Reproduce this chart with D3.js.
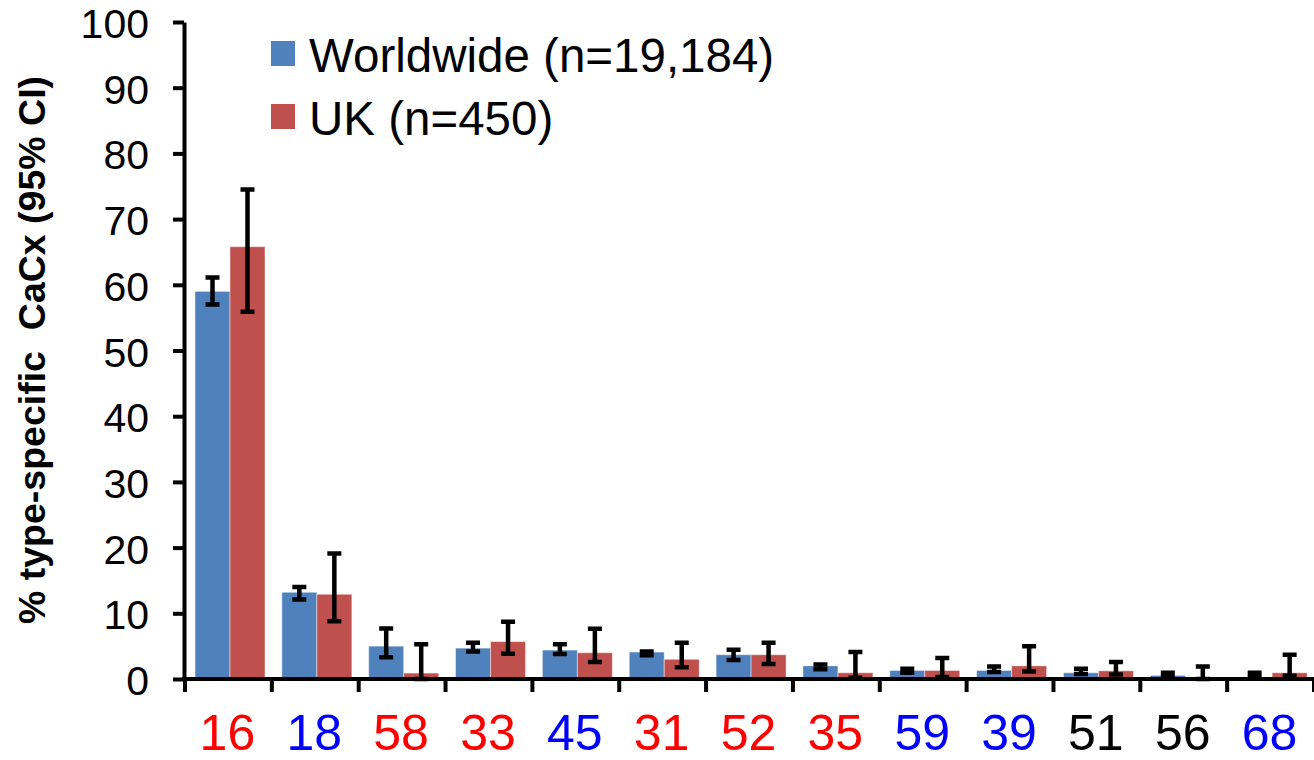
<!DOCTYPE html>
<html lang="en">
<head>
  <meta charset="UTF-8">
  <title>HPV type-specific CaCx</title>
  <script src="https://d3js.org/d3.v7.min.js"></script>
  <style>
    body { margin: 0; background: #fff; }
    svg { display: block; font-family: "Liberation Sans", Arial, sans-serif; }
    .axis line, .axis path { stroke: #000; stroke-width: 4px; }
    .err { stroke: #000; stroke-width: 4.5px; fill: none; }
  </style>
</head>
<body>
  <svg width="1314" height="760"></svg>
  <script>
    // HPV types along the x axis and the colour of each label
    const types = ["16", "18", "58", "33", "45", "31", "52", "35", "59", "39", "51", "56", "68"];
    const typeColors = ["#ff0000", "#0000ff", "#ff0000", "#ff0000", "#0000ff", "#ff0000", "#ff0000",
                        "#ff0000", "#0000ff", "#0000ff", "#000000", "#000000", "#0000ff"];

    // Worldwide (n=19,184)
    const wwVal = [59.0, 13.2, 5.0, 4.7, 4.4, 4.1, 3.7, 2.0, 1.3, 1.3, 0.95, 0.55, 0.1];
    const wwLo  = [57.0, 12.1, 3.3, 4.2, 3.8, 3.6, 2.9, 1.5, 0.95, 1.05, 0.75, 0.55, 0.55];
    const wwHi  = [61.1, 14.0, 7.7, 5.5, 5.3, 4.2, 4.45, 2.2, 1.55, 1.9, 1.55, 0.95, 0.95];

    // UK (n=450)
    const ukVal = [65.8, 12.9, 0.9, 5.7, 4.0, 3.0, 3.7, 0.95, 1.3, 2.0, 1.25, 0.05, 0.95];
    const ukLo  = [55.9, 8.8, 0, 3.85, 2.6, 1.8, 2.3, 0.2, 0.3, 1.15, 0.7, 0, 0.5];
    const ukHi  = [74.5, 19.1, 5.3, 8.7, 7.65, 5.5, 5.5, 4.1, 3.2, 5.0, 2.6, 1.9, 3.7];

    const seriesNames = ["Worldwide (n=19,184)", "UK (n=450)"];
    const seriesColors = ["#4f81bd", "#c0504d"];
    const yTicks = [0, 10, 20, 30, 40, 50, 60, 70, 80, 90, 100];

    const series = [
      { name: seriesNames[0], color: seriesColors[0], val: wwVal, lo: wwLo, hi: wwHi },
      { name: seriesNames[1], color: seriesColors[1], val: ukVal, lo: ukLo, hi: ukHi }
    ];

    const svg = d3.select("svg");
    const x0 = d3.scaleBand().domain(types).range([185, 1314]).padding(0);
    const x1 = d3.scaleBand().domain([0, 1]).range([10, 80]).padding(0);
    const y = d3.scaleLinear().domain([0, 100]).range([679, 22]);

    // bars
    series.forEach((s, si) => {
      svg.append("g").selectAll("rect")
        .data(types)
        .enter()
        .append("rect")
        .attr("x", (d) => x0(d) + x1(si))
        .attr("width", x1.bandwidth())
        .attr("y", (d, i) => y(s.val[i]))
        .attr("height", (d, i) => y(0) - y(s.val[i]))
        .attr("fill", s.color)
        .attr("stroke", "rgba(255,255,255,0.45)")
        .attr("stroke-width", 1);
    });

    // error bars
    const cap = 7;
    series.forEach((s, si) => {
      const g = svg.append("g");
      types.forEach((t, i) => {
        const cx = x0(t) + x1(si) + x1.bandwidth() / 2;
        const top = y(s.hi[i]), bot = y(s.lo[i]);
        g.append("path")
          .attr("class", "err")
          .attr("d", `M${cx},${top}V${bot}M${cx - cap},${top}H${cx + cap}M${cx - cap},${bot}H${cx + cap}`);
      });
    });

    // y axis
    const yAxis = svg.append("g")
      .attr("class", "axis")
      .attr("transform", "translate(184,0)")
      .call(d3.axisLeft(y).tickValues(yTicks).tickSize(11).tickSizeOuter(0).tickPadding(24));
    yAxis.selectAll("text")
      .attr("font-size", 41)
      .attr("font-family", "'Liberation Sans', Arial, sans-serif")
      .attr("fill", "#000")
      .attr("dy", "0.38em");

    // x axis: ticks at category boundaries
    const xAxis = svg.append("g").attr("class", "axis");
    xAxis.append("line")
      .attr("x1", 182).attr("x2", 1314)
      .attr("y1", y(0)).attr("y2", y(0));
    xAxis.selectAll(".tk")
      .data(types.concat(["end"]))
      .enter()
      .append("line")
      .attr("x1", (d, i) => i < types.length ? x0(d) : x0.range()[1])
      .attr("x2", (d, i) => i < types.length ? x0(d) : x0.range()[1])
      .attr("y1", y(0))
      .attr("y2", y(0) + 13);

    svg.append("g").selectAll("text")
      .data(types)
      .enter()
      .append("text")
      .attr("x", (d) => x0(d) + x0.bandwidth() / 2 - 1)
      .attr("y", 749.5)
      .attr("text-anchor", "middle")
      .attr("font-size", 50)
      .attr("fill", (d, i) => typeColors[i])
      .text((d) => d);

    // y axis title
    svg.append("text")
      .attr("transform", "translate(45,350) rotate(-90)")
      .attr("text-anchor", "middle")
      .attr("font-size", 37.5)
      .attr("font-weight", "bold")
      .attr("xml:space", "preserve")
      .style("white-space", "pre")
      .text("% type-specific  CaCx (95% CI)");

    // legend
    const legend = svg.append("g").attr("transform", "translate(271,41)");
    series.forEach((s, si) => {
      const row = legend.append("g").attr("transform", `translate(0,${si * 63})`);
      row.append("rect").attr("width", 24).attr("height", 25).attr("fill", s.color);
      row.append("text")
        .attr("x", 38)
        .attr("y", 31)
        .attr("font-size", 47.5)
        .attr("fill", "#000")
        .text(s.name);
    });
  </script>
</body>
</html>
